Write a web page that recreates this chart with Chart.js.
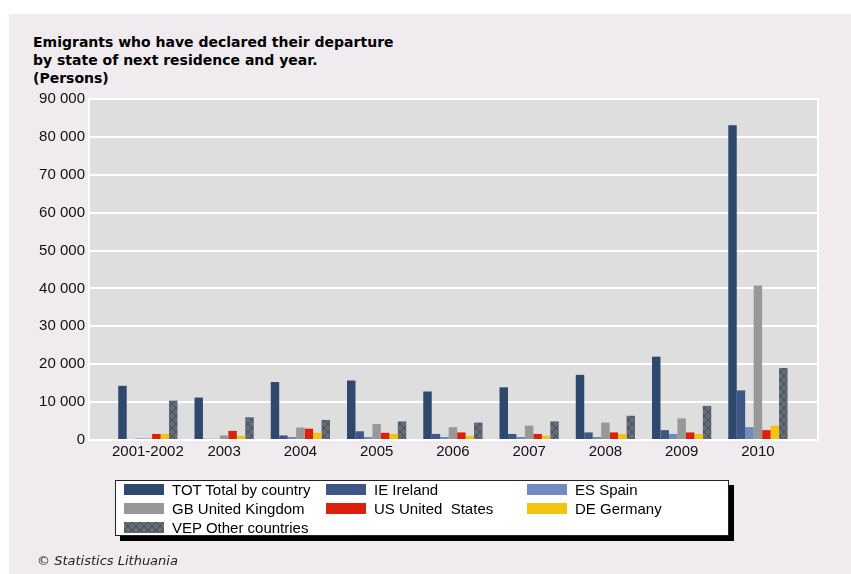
<!DOCTYPE html>
<html>
<head>
<meta charset="utf-8">
<script src="https://cdn.jsdelivr.net/npm/chart.js@4.4.0/dist/chart.umd.min.js"></script>
<style>
  html, body { margin: 0; padding: 0; background: #fff; }
  #page { position: relative; width: 851px; height: 574px; overflow: hidden; }
  #bg { position: absolute; left: 9px; top: 14px; right: 0; bottom: 0; background: #efebef; }
  #chart { position: absolute; left: 0; top: 0; }
  #title { position: absolute; left: 33px; top: 33px; font: bold 14px "DejaVu Sans", sans-serif; line-height: 18px; color: #000; }
  #legend { position: absolute; left: 115px; top: 480px; width: 612px; height: 54px; background: #fff;
            border: 1px solid #222; box-shadow: 5px 5px 0 #000; }
  .item { position: absolute; height: 18px; white-space: pre; font: 15px "Liberation Sans", Arial, sans-serif; color: #000; }
  .item canvas { position: absolute; left: 0; top: 3px; }
  .item span { position: absolute; left: 48px; top: 0; line-height: 18px; }
  #source { position: absolute; left: 37px; top: 553px; font: oblique 13px "DejaVu Sans", sans-serif; color: #222; }
</style>
</head>
<body>
<div id="page">
  <div id="bg"></div>
  <div id="title">Emigrants who have declared their departure<br>by state of next residence and year.<br>(Persons)</div>
  <canvas id="chart" width="851" height="574"></canvas>
  <div id="legend"></div>
  <div id="source">© Statistics Lithuania</div>
</div>
<script>
// Years on the x axis
const CATS = ['2001-2002', '2003', '2004', '2005', '2006', '2007', '2008', '2009', '2010'];

// Emigrants by country of next residence (persons)
const TOT = [14300, 11200, 15300, 15700, 12800, 13900, 17200, 22000, 83100];
const IE  = [0,      300,  1200,  2300,  1600,  1600,  2000,  2600, 13100];
const ES  = [400,    300,   800,   800,   800,   800,   800,  1600,  3400];
const GB  = [400,   1200,  3300,  4200,  3400,  3800,  4600,  5700, 40800];
const US  = [1600,  2400,  3000,  1900,  2000,  1600,  2000,  2000,  2600];
const DE  = [1600,  1100,  1900,  1600,  1100,  1100,  1600,  1600,  3800];
const VEP = [10400, 6000,  5300,  4900,  4600,  4900,  6400,  9000, 19000];

const Y_MAX = 90000, Y_STEP = 10000;

// crosshatch used for "other countries"
function hatch(ctx) {
  const c = document.createElement('canvas');
  c.width = 8; c.height = 8;
  const g = c.getContext('2d');
  g.fillStyle = '#6a6b6c';
  g.fillRect(0, 0, 8, 8);
  g.strokeStyle = '#34507c';
  g.lineWidth = 1;
  g.beginPath();
  g.moveTo(0, 0); g.lineTo(8, 8);
  g.moveTo(8, 0); g.lineTo(0, 8);
  g.stroke();
  return ctx.createPattern(c, 'repeat');
}

const SERIES = [
  { label: 'TOT Total by country', data: TOT, color: '#2e486e' },
  { label: 'IE Ireland',           data: IE,  color: '#3e5786' },
  { label: 'ES Spain',             data: ES,  color: '#6f8bbf' },
  { label: 'GB United Kingdom',    data: GB,  color: '#979897' },
  { label: 'US United  States',    data: US,  color: '#dd1f0b' },
  { label: 'DE Germany',           data: DE,  color: '#f3c40f' },
  { label: 'VEP Other countries',  data: VEP, color: 'hatch' },
];

const spaced = v => String(v).replace(/\B(?=(\d{3})+(?!\d))/g, ' ');

const plotFrame = {
  id: 'plotFrame',
  beforeDraw(chart) {
    const { ctx, chartArea: a } = chart;
    ctx.save();
    ctx.fillStyle = '#dedede';
    ctx.fillRect(a.left, a.top, a.width, a.height);
    ctx.restore();
  },
  beforeDatasetsDraw(chart) {
    const { ctx, chartArea: a } = chart;
    ctx.save();
    ctx.strokeStyle = '#fff';
    ctx.lineWidth = 2;
    ctx.strokeRect(a.left, a.top, a.width, a.height);
    ctx.restore();
  }
};

const el = document.getElementById('chart');
const ctx = el.getContext('2d');
const FONT = { family: '"Liberation Sans", Arial, sans-serif', size: 15 };

new Chart(ctx, {
  type: 'bar',
  data: {
    datasets: SERIES.map(s => ({
      label: s.label,
      data: s.data.map((v, i) => ({ x: i, y: v })),
      backgroundColor: s.color === 'hatch' ? hatch(ctx) : s.color,
      borderWidth: 0,
      categoryPercentage: 0.777,
      barPercentage: 1,
    }))
  },
  options: {
    responsive: false,
    devicePixelRatio: 1,
    animation: false,
    layout: { padding: { left: 29, right: 33, top: 99, bottom: 104 } },
    plugins: { legend: { display: false }, title: { display: false }, tooltip: { enabled: false } },
    scales: {
      x: {
        type: 'linear',
        offset: false,
        bounds: 'data',
        min: -0.772, max: 8.788,
        grid: { display: false, drawTicks: false, offset: false },
        border: { display: false },
        afterBuildTicks: sc => { sc.ticks = CATS.map((_, i) => ({ value: i })); },
        afterFit: sc => { sc.height = 30; },
        ticks: { color: '#111', font: FONT, padding: 3, autoSkip: false, maxRotation: 0,
                 callback: v => CATS[v] },
      },
      y: {
        min: 0, max: Y_MAX,
        grid: { color: '#fff', lineWidth: 2, drawTicks: false },
        border: { display: false },
        afterFit: sc => { sc.width = 60; },
        ticks: { stepSize: Y_STEP, color: '#111', font: FONT, padding: 4, callback: v => spaced(v) },
      }
    }
  },
  plugins: [plotFrame]
});

// legend: three columns, filled row by row
const legend = document.getElementById('legend');
const COL_X = [8, 210, 411];
const ROW_Y = [0, 19, 38];
SERIES.forEach((s, i) => {
  const item = document.createElement('div');
  item.className = 'item';
  item.style.left = COL_X[i % 3] + 'px';
  item.style.top = ROW_Y[Math.floor(i / 3)] + 'px';
  const sw = document.createElement('canvas');
  sw.width = 40; sw.height = 11;
  const g = sw.getContext('2d');
  g.fillStyle = s.color === 'hatch' ? hatch(g) : s.color;
  g.fillRect(0, 0, 40, 11);
  const txt = document.createElement('span');
  txt.textContent = s.label;
  item.appendChild(sw);
  item.appendChild(txt);
  legend.appendChild(item);
});
</script>
</body>
</html>
